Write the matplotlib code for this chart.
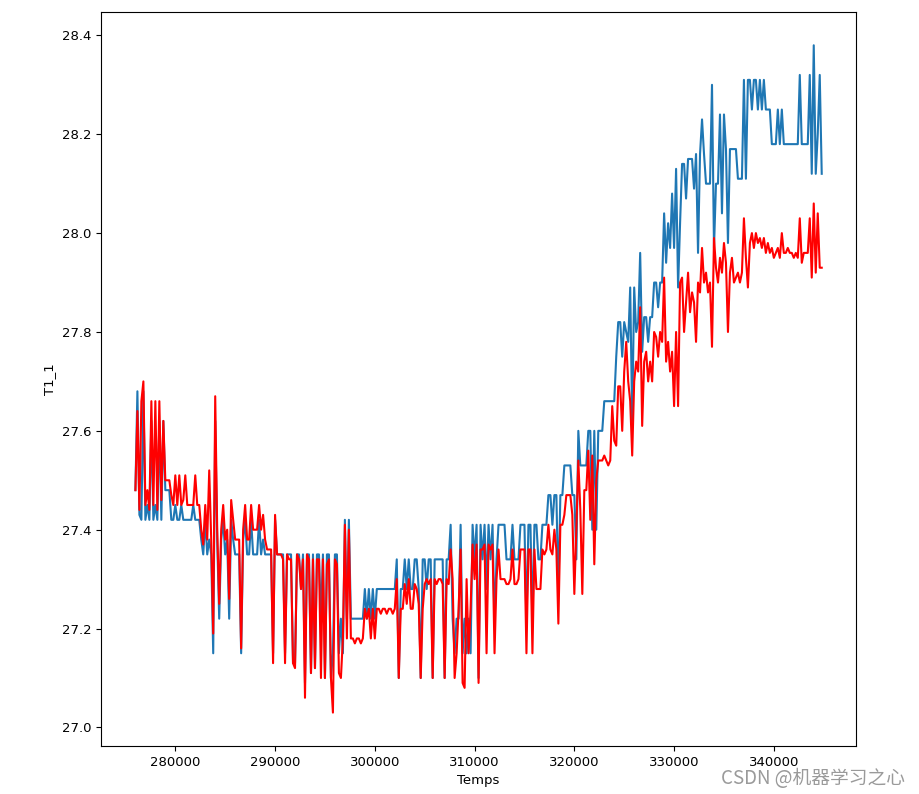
import numpy as np
import matplotlib.pyplot as plt

# sampling clock of the series (seconds)
temps = np.arange(276000, 344801, 200)

# measured T1_1
t1_real = [
    27.48, 27.68, 27.43, 27.42, 27.68, 27.42, 27.45, 27.42, 27.62, 27.42,
    27.45, 27.42, 27.62, 27.42, 27.62, 27.48, 27.48, 27.48, 27.42, 27.42,
    27.45, 27.42, 27.42, 27.45, 27.42, 27.42, 27.42, 27.42, 27.42, 27.45,
    27.42, 27.42, 27.42, 27.38, 27.35, 27.42, 27.35, 27.38, 27.35, 27.15,
    27.62, 27.38, 27.22, 27.38, 27.42, 27.35, 27.38, 27.22, 27.42, 27.38,
    27.35, 27.35, 27.35, 27.15, 27.38, 27.42, 27.35, 27.35, 27.42, 27.35,
    27.35, 27.35, 27.42, 27.35, 27.38, 27.35, 27.35, 27.35, 27.35, 27.15,
    27.42, 27.35, 27.35, 27.35, 27.35, 27.15, 27.35, 27.35, 27.35, 27.13,
    27.13, 27.35, 27.35, 27.28, 27.35, 27.09, 27.35, 27.35, 27.11, 27.35,
    27.12, 27.35, 27.35, 27.22, 27.35, 27.10, 27.35, 27.35, 27.10, 27.15,
    27.35, 27.35, 27.15, 27.22, 27.15, 27.42, 27.22, 27.42, 27.22, 27.22,
    27.22, 27.22, 27.22, 27.22, 27.22, 27.28, 27.22, 27.28, 27.22, 27.28,
    27.22, 27.28, 27.28, 27.28, 27.28, 27.28, 27.28, 27.28, 27.28, 27.28,
    27.28, 27.34, 27.10, 27.28, 27.28, 27.34, 27.28, 27.34, 27.28, 27.28,
    27.34, 27.34, 27.28, 27.10, 27.34, 27.34, 27.28, 27.34, 27.34, 27.10,
    27.34, 27.34, 27.34, 27.34, 27.34, 27.10, 27.34, 27.34, 27.41, 27.22,
    27.15, 27.22, 27.22, 27.41, 27.15, 27.22, 27.15, 27.22, 27.15, 27.41,
    27.34, 27.41, 27.10, 27.41, 27.34, 27.41, 27.28, 27.41, 27.34, 27.41,
    27.21, 27.34, 27.41, 27.41, 27.41, 27.41, 27.34, 27.34, 27.34, 27.41,
    27.34, 27.34, 27.34, 27.41, 27.41, 27.41, 27.21, 27.41, 27.41, 27.21,
    27.41, 27.41, 27.34, 27.34, 27.41, 27.41, 27.41, 27.47, 27.47, 27.41,
    27.47, 27.47, 27.27, 27.47, 27.47, 27.53, 27.53, 27.53, 27.53, 27.47,
    27.47, 27.34, 27.60, 27.53, 27.53, 27.53, 27.53, 27.60, 27.60, 27.40,
    27.60, 27.40, 27.60, 27.60, 27.60, 27.66, 27.66, 27.66, 27.66, 27.66,
    27.66, 27.75, 27.82, 27.82, 27.75, 27.82, 27.80, 27.78, 27.89, 27.62,
    27.89, 27.80, 27.82, 27.96, 27.76, 27.83, 27.83, 27.78, 27.83, 27.83,
    27.90, 27.90, 27.85, 27.90, 27.90, 28.04, 27.94, 28.02, 27.97, 28.08,
    27.97, 28.13, 27.89, 28.02, 28.14, 28.14, 28.07, 28.15, 28.15, 28.15,
    28.09, 28.16, 27.96, 28.16, 28.23, 28.16, 28.10, 28.10, 28.10, 28.30,
    27.97, 28.10, 28.10, 28.24, 28.04, 28.24, 28.17, 27.98, 28.17, 28.17,
    28.17, 28.17, 28.11, 28.11, 28.11, 28.31, 28.11, 28.31, 28.31, 28.25,
    28.31, 28.31, 28.25, 28.31, 28.25, 28.31, 28.25, 28.25, 28.25, 28.18,
    28.18, 28.18, 28.25, 28.18, 28.25, 28.18, 28.18, 28.18, 28.18, 28.18,
    28.18, 28.18, 28.18, 28.32, 28.18, 28.18, 28.18, 28.18, 28.32, 28.12,
    28.38, 28.12, 28.20, 28.32, 28.12,
]

# predicted T1_1
t1_pred = [
    27.48, 27.64, 27.44, 27.66, 27.70, 27.45, 27.48, 27.44, 27.66, 27.45,
    27.66, 27.44, 27.66, 27.46, 27.62, 27.50, 27.50, 27.50, 27.47, 27.45,
    27.51, 27.45, 27.51, 27.45, 27.46, 27.51, 27.45, 27.45, 27.45, 27.45,
    27.51, 27.45, 27.45, 27.40, 27.37, 27.45, 27.38, 27.52, 27.38, 27.19,
    27.67, 27.40, 27.25, 27.40, 27.45, 27.38, 27.40, 27.26, 27.46, 27.42,
    27.38, 27.38, 27.38, 27.16, 27.40, 27.45, 27.38, 27.38, 27.45, 27.40,
    27.40, 27.40, 27.45, 27.40, 27.43, 27.38, 27.36, 27.36, 27.36, 27.13,
    27.43, 27.35, 27.35, 27.35, 27.34, 27.13, 27.35, 27.34, 27.34, 27.13,
    27.12, 27.35, 27.34, 27.28, 27.34, 27.06, 27.35, 27.34, 27.11, 27.34,
    27.12, 27.34, 27.34, 27.10, 27.34, 27.10, 27.33, 27.34, 27.10, 27.03,
    27.34, 27.33, 27.11, 27.10, 27.18, 27.41, 27.18, 27.40, 27.18, 27.18,
    27.17, 27.18, 27.18, 27.17, 27.18, 27.24, 27.22, 27.24, 27.18, 27.24,
    27.18, 27.24, 27.24, 27.23, 27.24, 27.24, 27.23, 27.24, 27.24, 27.23,
    27.24, 27.30, 27.10, 27.24, 27.24, 27.29, 27.25, 27.30, 27.24, 27.24,
    27.29, 27.28, 27.25, 27.10, 27.24, 27.29, 27.30, 27.29, 27.30, 27.10,
    27.30, 27.29, 27.30, 27.30, 27.29, 27.10, 27.30, 27.29, 27.36, 27.30,
    27.10, 27.15, 27.24, 27.36, 27.09, 27.08, 27.30, 27.15, 27.24, 27.37,
    27.30, 27.37, 27.09, 27.36, 27.36, 27.37, 27.15, 27.37, 27.36, 27.37,
    27.15, 27.30, 27.36, 27.30, 27.30, 27.30, 27.29, 27.29, 27.30, 27.36,
    27.29, 27.29, 27.30, 27.36, 27.36, 27.36, 27.15, 27.36, 27.36, 27.15,
    27.36, 27.28, 27.28, 27.28, 27.36, 27.35, 27.36, 27.41, 27.36, 27.35,
    27.40, 27.36, 27.21, 27.41, 27.41, 27.43, 27.47, 27.47, 27.47, 27.43,
    27.27, 27.40, 27.54, 27.44, 27.27, 27.48, 27.48, 27.56, 27.42, 27.55,
    27.33, 27.50, 27.54, 27.54, 27.54, 27.55, 27.54, 27.53, 27.54, 27.65,
    27.58, 27.57, 27.69, 27.69, 27.60, 27.72, 27.78, 27.70, 27.66, 27.55,
    27.70, 27.74, 27.72, 27.85, 27.61, 27.74, 27.76, 27.70, 27.74, 27.70,
    27.80, 27.79, 27.75, 27.80, 27.78, 27.91, 27.74, 27.78, 27.72, 27.76,
    27.65, 27.80, 27.65, 27.90, 27.91, 27.80, 27.86, 27.92, 27.84, 27.88,
    27.86, 27.78, 27.90, 27.88, 27.97, 27.90, 27.92, 27.88, 27.90, 27.77,
    27.99, 27.93, 27.90, 27.95, 27.92, 27.98, 27.94, 27.80, 27.92, 27.95,
    27.90, 27.91, 27.92, 27.90, 27.92, 28.03, 27.95, 27.89, 27.98, 28.00,
    27.97, 28.00, 27.98, 27.99, 27.97, 27.99, 27.96, 27.98, 27.96, 27.97,
    27.95, 27.96, 27.97, 27.95, 28.00, 27.96, 27.96, 27.97, 27.96, 27.96,
    27.95, 27.96, 27.95, 28.03, 27.94, 27.96, 27.96, 27.96, 28.03, 27.91,
    28.06, 27.92, 28.04, 27.93, 27.93,
]

plt.rcParams['font.size'] = 9.5

fig = plt.figure(figsize=(9.19, 7.94), dpi=100)
ax = fig.add_axes([0.110, 0.0605, 0.8215, 0.9245])

ax.plot(temps, t1_real, color='#1f77b4', lw=1.5)
ax.plot(temps, t1_pred, color='red', lw=1.5)

ax.set_xlabel("Temps")
ax.set_ylabel("T1_1")

# watermark in the lower right corner
fig.text(0.985, 0.019, "CSDN @机器学习之心", ha='right', va='center',
         fontsize=13.5, color='#9a9a9a',
         family=['Noto Sans CJK SC', 'DejaVu Sans'])

plt.savefig('out.png', dpi=100)
